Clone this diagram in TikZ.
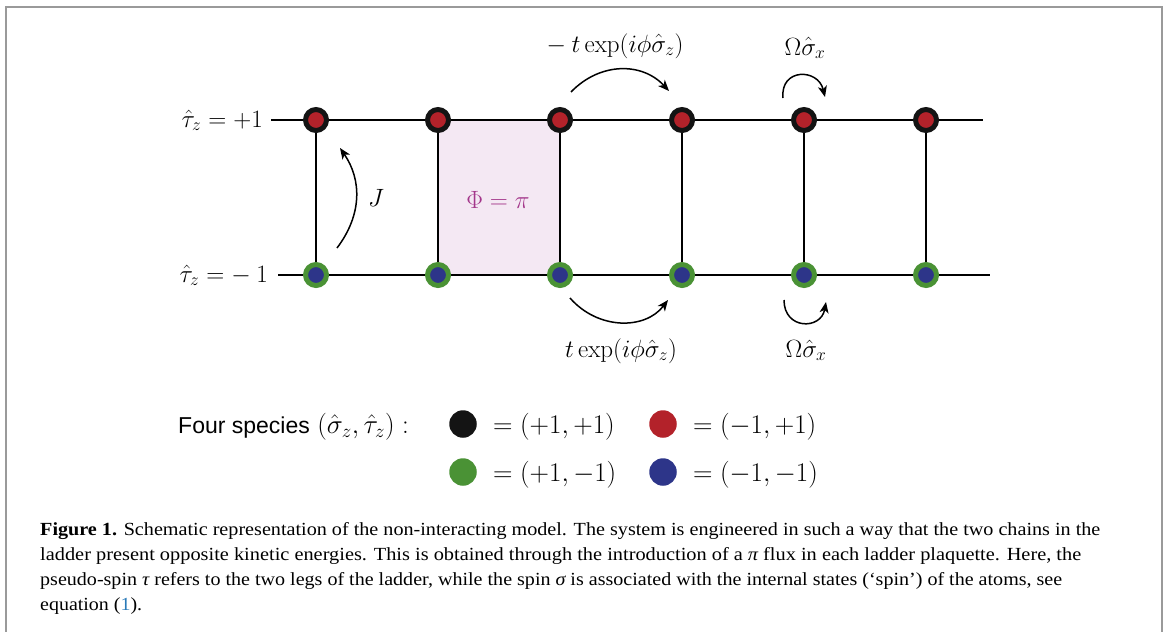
\RequirePackage{fix-cm}
\documentclass[tikz,border=0pt]{standalone}
\usepackage[no-math]{fontspec}
\usepackage{graphicx}
\newfontfamily\capfont{Liberation Serif}
\newfontfamily\legfont{Liberation Sans}
\usetikzlibrary{arrows.meta,backgrounds}
\definecolor{ringblack}{HTML}{141414}
\definecolor{nodered}{HTML}{B3222A}
\definecolor{ringgreen}{HTML}{4A9235}
\definecolor{nodeblue}{HTML}{2D3589}
\definecolor{plaq}{HTML}{F4E8F3}
\definecolor{phicol}{HTML}{A3368A}
\definecolor{framecol}{HTML}{9A9A9A}
\definecolor{linkblue}{HTML}{2A7AB8}
\begin{document}
\begin{tikzpicture}[x=1pt,y=-1pt,
  upper/.style={circle,draw=ringblack,fill=nodered,line width=5pt,minimum size=21pt,inner sep=0pt},
  lower/.style={circle,draw=ringgreen,fill=nodeblue,line width=5pt,minimum size=21pt,inner sep=0pt},
  legline/.style={line width=2.4pt,draw=black},
  hop/.style={line width=1.5pt,-{Stealth[length=11pt,width=9pt,inset=3pt]}},
  lbl/.style={inner sep=0pt,font=\fontsize{25}{30}\selectfont},
  keylbl/.style={inner sep=0pt,anchor=base west,font=\fontsize{27}{32}\selectfont},
  keydot/.style={circle,inner sep=0pt,minimum size=27.5pt},
  capline/.style={inner sep=0pt,anchor=base west}]
\useasboundingbox (0,0) rectangle (1165,632);
\draw[framecol,line width=2pt] (6,632) -- (6,7) -- (1162,7) -- (1162,632);

% ladder sites
\foreach \i/\x in {1/316,2/438,3/560,4/682,5/804,6/926}{
  \node[upper] (t\i) at (\x,120) {};
  \node[lower] (b\i) at (\x,275) {};
}
\coordinate (tl) at (271,120); \coordinate (tr) at (983,120);
\coordinate (bl) at (278,275); \coordinate (br) at (990,275);

\begin{scope}[on background layer]
  \fill[plaq] (t2.center) rectangle (b3.center);
  \draw[legline] (tl) -- (tr);
  \draw[legline] (bl) -- (br);
  \foreach \i in {1,...,6} \draw[legline] (t\i.center) -- (b\i.center);
\end{scope}

% leg labels
\node[lbl,anchor=base east] (tauup) at (263,127) {$\hat{\tau}_z = +1$};
\node[lbl,anchor=base east] (taudn) at (268,282) {$\hat{\tau}_z = -\:1$};
\node[lbl,text=phicol] (phi) at (498,200) {$\Phi = \pi$};
\node[lbl] (jlab) at (376,198) {$J$};

% hopping arrows
\coordinate (j0) at (337,248); \coordinate (j1) at (340,148);
\draw[hop] (j0) .. controls (362,215) and (362,180) .. (j1);
\coordinate (h0) at (571,92); \coordinate (h1) at (669,91);
\draw[hop] (h0) .. controls (600,62) and (642,62) .. (h1);
\node[lbl,anchor=base] (hoptop) at (615,52) {$-\:t\exp(i\phi\hat{\sigma}_z)$};
\coordinate (g0) at (570,298); \coordinate (g1) at (668,300);
\draw[hop] (g0) .. controls (598,330) and (645,330) .. (g1);
\node[lbl,anchor=base] (hopbot) at (621,357) {$t\exp(i\phi\hat{\sigma}_z)$};
\coordinate (o0) at (783,98); \coordinate (o1) at (825,97);
\draw[hop] (o0) .. controls (780,68) and (818,68) .. (o1);
\node[lbl,anchor=base] (omtop) at (805,55) {$\Omega\hat{\sigma}_x$};
\coordinate (p0) at (784,300); \coordinate (p1) at (826,302);
\draw[hop] (p0) .. controls (784,330) and (821,330) .. (p1);
\node[lbl,anchor=base] (ombot) at (806,357) {$\Omega\hat{\sigma}_x$};

% legend
\node[inner sep=0pt,anchor=base west] (species) at (178,433)
  {\legfont\fontsize{23}{28}\selectfont Four species\fontsize{27}{32}\selectfont\ $(\hat{\sigma}_z,\hat{\tau}_z):$};
\node[keydot,fill=ringblack] (kblack) at (463,424) {};
\node[keydot,fill=nodered] (kred) at (663,424) {};
\node[keydot,fill=ringgreen] (kgreen) at (463,472) {};
\node[keydot,fill=nodeblue] (kblue) at (663,472) {};
\node[keylbl] (lblack) at (493,433) {$=(+1,+1)$};
\node[keylbl] (lred) at (693,433) {$=(-1,+1)$};
\node[keylbl] (lgreen) at (493,481) {$=(+1,-1)$};
\node[keylbl] (lblue) at (693,481) {$=(-1,-1)$};

% caption
\node[capline] (cap1) at (40,535) {\resizebox{1060pt}{\height}{\capfont\fontsize{18.5}{22}\selectfont\textbf{Figure 1.} Schematic representation of the non-interacting model. The system is engineered in such a way that the two chains in the}};
\node[capline] (cap2) at (40,560) {\resizebox{1041pt}{\height}{\capfont\fontsize{18.5}{22}\selectfont ladder present opposite kinetic energies. This is obtained through the introduction of a {\itshape π} flux in each ladder plaquette. Here, the}};
\node[capline] (cap3) at (40,585) {\resizebox{1022pt}{\height}{\capfont\fontsize{18.5}{22}\selectfont pseudo-spin {\itshape τ} refers to the two legs of the ladder, while the spin {\itshape σ} is associated with the internal states (‘spin’) of the atoms, see}};
\node[capline] (cap4) at (40,610) {\resizebox{102pt}{\height}{\capfont\fontsize{18.5}{22}\selectfont equation (\textcolor{linkblue}{1}).}};
\end{tikzpicture}
\end{document}
